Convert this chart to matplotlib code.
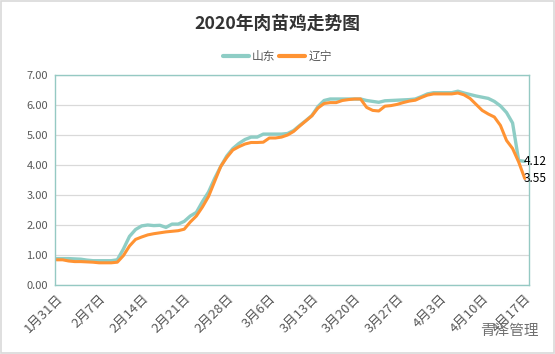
import matplotlib
matplotlib.use("Agg")
import matplotlib.pyplot as plt
import numpy as np

plt.rcParams['font.family'] = ['Noto Sans CJK SC', 'DejaVu Sans']

# x categories: daily from 1月31日 to 4月17日 (2020), labelled every 7 days
tick_labels = ['1月31日', '2月7日', '2月14日', '2月21日', '2月28日', '3月6日',
               '3月13日', '3月20日', '3月27日', '4月3日', '4月10日', '4月17日']

shandong = [0.88, 0.88, 0.88, 0.87, 0.86, 0.83, 0.81, 0.81, 0.81, 0.81,
            0.84, 1.20, 1.62, 1.85, 1.97, 2.00, 1.98, 1.99, 1.92, 2.03,
            2.03, 2.12, 2.30, 2.42, 2.78, 3.10, 3.55, 3.95, 4.30, 4.55,
            4.72, 4.85, 4.93, 4.93, 5.03, 5.03, 5.03, 5.03, 5.05, 5.15,
            5.32, 5.48, 5.65, 5.95, 6.15, 6.20, 6.20, 6.20, 6.20, 6.20,
            6.20, 6.15, 6.12, 6.09, 6.14, 6.15, 6.16, 6.17, 6.18, 6.20,
            6.28, 6.37, 6.41, 6.41, 6.41, 6.41, 6.46, 6.40, 6.35, 6.30,
            6.26, 6.22, 6.12, 5.97, 5.75, 5.40, 4.15, 4.12]

liaoning = [0.84, 0.84, 0.80, 0.78, 0.78, 0.77, 0.76, 0.74, 0.74, 0.74,
            0.76, 0.98, 1.30, 1.52, 1.60, 1.67, 1.71, 1.74, 1.77, 1.79,
            1.81, 1.86, 2.10, 2.30, 2.60, 2.95, 3.45, 3.95, 4.25, 4.50,
            4.61, 4.70, 4.75, 4.75, 4.76, 4.90, 4.90, 4.93, 5.00, 5.12,
            5.30, 5.47, 5.64, 5.90, 6.05, 6.08, 6.08, 6.15, 6.18, 6.20,
            6.20, 5.92, 5.82, 5.80, 5.96, 5.98, 6.02, 6.08, 6.13, 6.16,
            6.25, 6.33, 6.37, 6.37, 6.37, 6.37, 6.40, 6.34, 6.22, 6.02,
            5.82, 5.70, 5.60, 5.32, 4.82, 4.55, 4.10, 3.55]

days = np.arange(len(shandong))

teal = '#8ecdc5'
orange = '#ff9333'
text_grey = '#595959'

fig = plt.figure(figsize=(5.55, 3.54), dpi=100)
ax = fig.add_axes([55 / 555, 69 / 354, 474 / 555, 210 / 354])

ax.plot(days, shandong, color=teal, lw=2.4, label='山东', solid_capstyle='round')
ax.plot(days, liaoning, color=orange, lw=2.2, label='辽宁', solid_capstyle='round')

# end labels
for series in (shandong, liaoning):
    ax.annotate(f'{series[-1]:.2f}', (days[-1], series[-1]), xytext=(-0.5, 0),
                textcoords='offset points', va='center', ha='left', fontsize=8.5,
                color='black', annotation_clip=False)

ax.set_xlim(-0.25, 77.7)
ax.set_ylim(0, 7)
ax.set_yticks(np.arange(0, 8))
ax.set_yticklabels([f'{v:.2f}' for v in range(8)], fontsize=8, color=text_grey)
ax.set_xticks(days[::7])
ax.set_xticklabels(tick_labels, rotation=45, ha='right', rotation_mode='anchor',
                   fontsize=9.5, color=text_grey)
ax.tick_params(axis='both', length=0, pad=5)
ax.grid(axis='y', color='#d9d9d9', lw=0.9)
ax.set_axisbelow(True)
for s in ax.spines.values():
    s.set_color('#95c9c3')
    s.set_linewidth(1.0)

fig.text(0.5, 0.932, '2020年肉苗鸡走势图', ha='center', va='center', fontsize=12.8,
         fontweight='bold', color='#333333')
leg = fig.legend(loc='center', bbox_to_anchor=(0.5, 0.840), ncol=2, frameon=False,
                 fontsize=8.5, handlelength=2.2, columnspacing=0.3,
                 handletextpad=0.3, labelcolor=text_grey)
for h in leg.legend_handles:
    h.set_linewidth(3)

fig.text(0.970, 0.065, '青泽管理', ha='right', va='center', fontsize=10.5,
         color='#707070')

border = plt.Rectangle((0.002, 0.003), 0.996, 0.994, transform=fig.transFigure,
                       fill=False, ec='#d9d9d9', lw=1.2)
fig.patches.append(border)

fig.savefig('out.png', dpi=100)
